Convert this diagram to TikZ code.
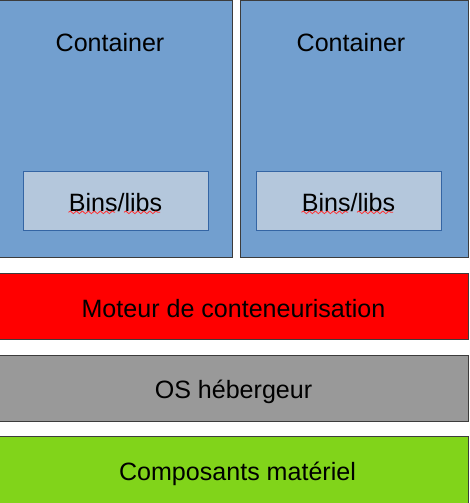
\documentclass[tikz,border=0pt]{standalone}
\usepackage{fontspec}
\setmainfont{Liberation Sans}
\usetikzlibrary{decorations.pathmorphing}

\definecolor{cblue}{HTML}{729FCF}
\definecolor{clightblue}{HTML}{B4C7DC}
\definecolor{cbinsline}{HTML}{3465A4}
\definecolor{cline}{HTML}{3C3C3C}
\definecolor{cred}{HTML}{FF0000}
\definecolor{cgrey}{HTML}{999999}
\definecolor{cgreen}{HTML}{81D41A}
\definecolor{cwavy}{HTML}{FF3333}

\tikzset{
  layer/.style={draw=cline,line width=0.75pt},
  binsbox/.style={draw=cbinsline,fill=clightblue,line width=0.75pt},
  squiggle/.style={cwavy,line width=0.6pt,decorate,
    decoration={snake,amplitude=1,segment length=4.5}},
}

\begin{document}
\begin{tikzpicture}[x=0.75pt,y=0.75pt,
    every node/.style={font=\fontsize{18.8}{22}\selectfont,text=black}]
  \useasboundingbox (0,0) rectangle (469,503);
  \clip (0,0) rectangle (469,503);
  % containers
  \draw[layer,fill=cblue] (-12,502) rectangle (232,245);
  \draw[layer,fill=cblue] (240,502) rectangle (468,245);
  \node (cont1) at (110,460.5) {Container};
  \node (cont2) at (351,460.5) {Container};
  \draw[binsbox] (23,331) rectangle ++(185,-59) node[pos=0.5,yshift=-1] (bins1) {Bins/libs};
  \draw[binsbox] (256,331) rectangle ++(185,-59) node[pos=0.5,yshift=-1] (bins2) {Bins/libs};
  \foreach \n in {bins1,bins2} {
    \draw[squiggle] ([shift={(-47,-9.5)}]\n.center) -- ([shift={(-0.5,-9.5)}]\n.center);
    \draw[squiggle] ([shift={(8.5,-9.5)}]\n.center) -- ([shift={(44.5,-9.5)}]\n.center);
  }
  % layers below
  \draw[layer,fill=cred] (-1,229) rectangle (468,163) node[pos=0.5,yshift=-1.5] (engine) {Moteur de conteneurisation};
  \draw[layer,fill=cgrey] (-1,147) rectangle (468,81) node[pos=0.5,yshift=-2] (hostos) {OS hébergeur};
  \draw[layer,fill=cgreen] (-1,66) rectangle (468,-7) node[pos=0.5,xshift=3] (hw) {Composants matériel};
\end{tikzpicture}
\end{document}
